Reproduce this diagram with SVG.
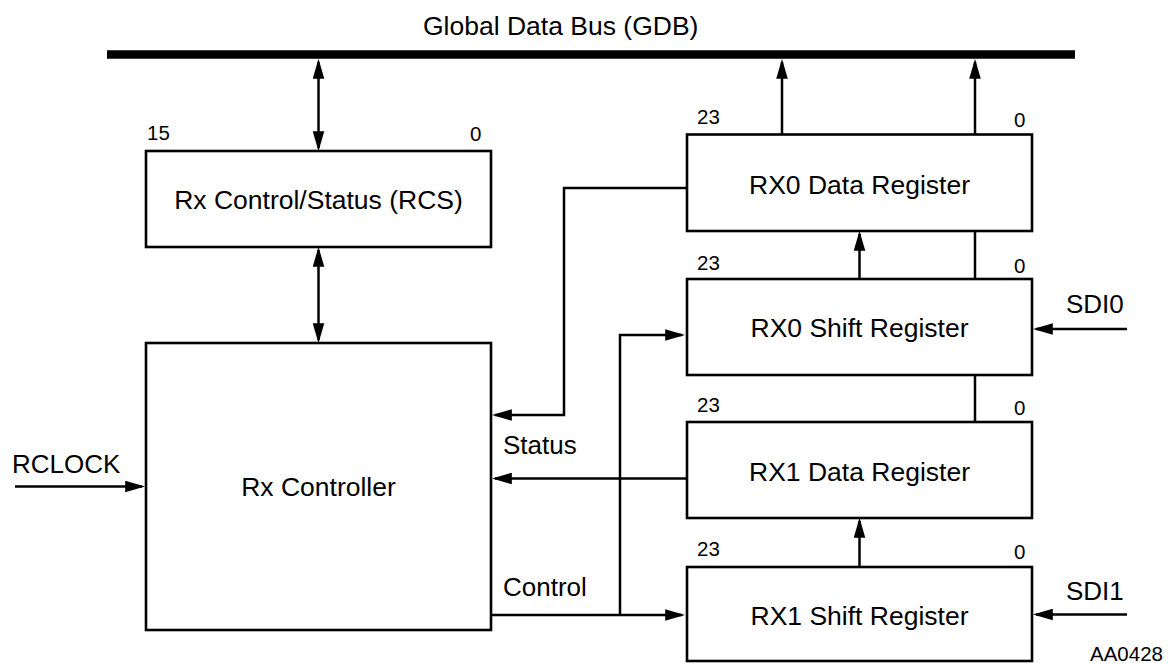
<svg xmlns="http://www.w3.org/2000/svg" width="1168" height="663" viewBox="0 0 1168 663">
<style>
.box{fill:#fff;stroke:#000;stroke-width:2.6}
.ln{fill:none;stroke:#000;stroke-width:2.5}
.lbl{font-family:"Liberation Sans",Arial,sans-serif;font-size:26.5px;fill:#000;text-anchor:middle}
.side{font-family:"Liberation Sans",Arial,sans-serif;font-size:26px;fill:#000}
.num{font-family:"Liberation Sans",Arial,sans-serif;font-size:20.5px;fill:#000}
</style>
<defs>
<marker id="ah" markerUnits="userSpaceOnUse" markerWidth="20" markerHeight="12" viewBox="0 0 19 11" refX="16" refY="5.5" orient="auto-start-reverse">
<path d="M0,0 L19,5.5 L0,11 z" fill="#000"/>
</marker>
</defs>
<rect width="1168" height="663" fill="#fff"/>
<g id="bus">
<line x1="107" y1="54.5" x2="1075" y2="54.5" stroke="#000" stroke-width="8.5"/>
<text class="side" x="423" y="35" style="font-size:26.5px">Global Data Bus (GDB)</text>
</g>
<g id="connectors">
<line class="ln" x1="318.5" y1="62" x2="318.5" y2="148" marker-start="url(#ah)" marker-end="url(#ah)"/>
<line class="ln" x1="318.5" y1="250" x2="318.5" y2="340" marker-start="url(#ah)" marker-end="url(#ah)"/>
<line class="ln" x1="782" y1="134" x2="782" y2="62" marker-end="url(#ah)"/>
<line class="ln" x1="975" y1="134" x2="975" y2="62" marker-end="url(#ah)"/>
<line class="ln" x1="975" y1="231" x2="975" y2="279"/>
<line class="ln" x1="975" y1="375" x2="975" y2="422"/>
<line class="ln" x1="859.5" y1="279" x2="859.5" y2="234" marker-end="url(#ah)"/>
<line class="ln" x1="859.5" y1="567" x2="859.5" y2="521" marker-end="url(#ah)"/>
<polyline class="ln" points="687,188 564,188 564,415 495,415" marker-end="url(#ah)"/>
<line class="ln" x1="687" y1="478.5" x2="495" y2="478.5" marker-end="url(#ah)"/>
<polyline class="ln" points="491,615 620,615 682,615" marker-end="url(#ah)"/>
<polyline class="ln" points="620,615 620,335 682,335" marker-end="url(#ah)"/>
<line class="ln" x1="15" y1="486.5" x2="142" y2="486.5" marker-end="url(#ah)"/>
<line class="ln" x1="1127" y1="329" x2="1036" y2="329" marker-end="url(#ah)"/>
<line class="ln" x1="1127" y1="614.5" x2="1036" y2="614.5" marker-end="url(#ah)"/>
</g>
<g id="rcs">
<rect class="box" x="146" y="151" width="345" height="96"/>
<text class="lbl" x="318.5" y="209">Rx Control/Status (RCS)</text>
<text class="num" x="147" y="140">15</text>
<text class="num" x="470" y="140.5">0</text>
</g>
<g id="rx-controller">
<rect class="box" x="146" y="343" width="345" height="287"/>
<text class="lbl" x="318.5" y="496">Rx Controller</text>
</g>
<g id="rx0-data">
<rect class="box" x="687" y="134.5" width="345" height="96.5"/>
<text class="lbl" x="859.5" y="194">RX0 Data Register</text>
<text class="num" x="697" y="123.5">23</text>
<text class="num" x="1014" y="127">0</text>
</g>
<g id="rx0-shift">
<rect class="box" x="687" y="279" width="345" height="96"/>
<text class="lbl" x="859.5" y="337">RX0 Shift Register</text>
<text class="num" x="697" y="270">23</text>
<text class="num" x="1014" y="273">0</text>
</g>
<g id="rx1-data">
<rect class="box" x="687" y="422" width="345" height="96"/>
<text class="lbl" x="859.5" y="481">RX1 Data Register</text>
<text class="num" x="697" y="411.5">23</text>
<text class="num" x="1014" y="414.5">0</text>
</g>
<g id="rx1-shift">
<rect class="box" x="687" y="567" width="345" height="94"/>
<text class="lbl" x="859.5" y="625">RX1 Shift Register</text>
<text class="num" x="697" y="556">23</text>
<text class="num" x="1014" y="559">0</text>
</g>
<g id="labels">
<text class="side" x="503" y="454">Status</text>
<text class="side" x="503" y="596">Control</text>
<text class="side" x="12" y="473">RCLOCK</text>
<text class="side" x="1066" y="313">SDI0</text>
<text class="side" x="1066" y="599.5">SDI1</text>
<text class="side" x="1090" y="661" style="font-size:20.5px">AA0428</text>
</g>
</svg>
